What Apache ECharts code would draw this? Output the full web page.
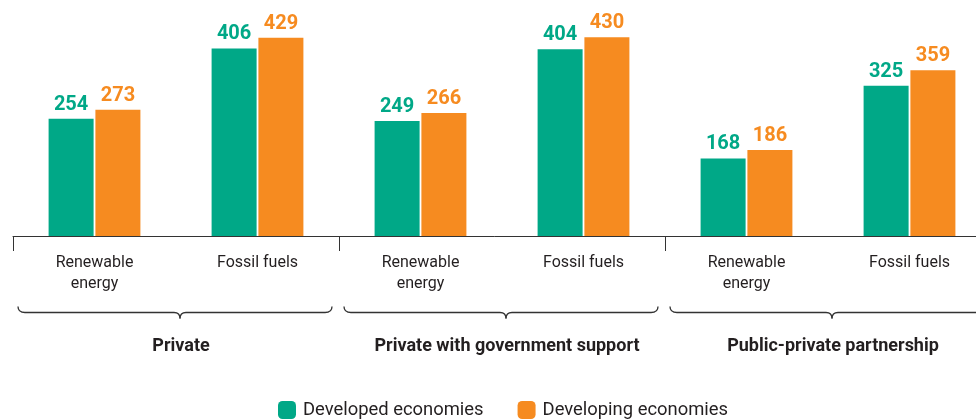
<!DOCTYPE html>
<html>
<head>
<meta charset="utf-8">
<script src="https://cdn.jsdelivr.net/npm/echarts@6/dist/echarts.min.js"></script>
<style>
html,body{margin:0;padding:0;background:#fff;}
#chart{width:976px;height:420px;}
</style>
</head>
<body>
<div id="chart"></div>
<script>
const groups = ['Private', 'Private with government support', 'Public-private partnership'];
const types = ['Renewable\nenergy', 'Fossil fuels'];
const developed = [254, 406, 249, 404, 168, 325];
const developing = [273, 429, 266, 430, 186, 359];
const seriesNames = ['Developed economies', 'Developing economies'];

const FONT = "Roboto, 'Liberation Sans', sans-serif";
const GREEN = '#00a887';
const ORANGE = '#f68b20';
const TEXT = '#231f20';

const categories = [];
groups.forEach(() => types.forEach(t => categories.push(t)));

const chart = echarts.init(document.getElementById('chart'), null, {renderer: 'canvas'});

function barSeries(name, data, color) {
  return {
    name: name,
    type: 'bar',
    data: data,
    barWidth: 45,
    barGap: '4%',
    itemStyle: {color: color},
    label: {
      show: true,
      position: 'top',
      distance: 4,
      color: color,
      fontFamily: FONT,
      fontWeight: 'bold',
      fontSize: 20
    }
  };
}

chart.setOption({
  animation: false,
  textStyle: {fontFamily: FONT},
  grid: {left: 13, top: 5, width: 978, height: 231, outerBoundsMode: 'none', containLabel: false},
  legend: {
    left: 278,
    top: 401,
    padding: 0,
    itemWidth: 18,
    itemHeight: 18,
    itemGap: 34,
    icon: 'roundRect',
    itemStyle: {borderWidth: 0},
    textStyle: {fontFamily: FONT, fontSize: 18.4, color: TEXT, padding: [0, 0, 0, 2]},
    data: seriesNames
  },
  xAxis: [
    {
      type: 'category',
      data: categories,
      axisLine: {show: true, lineStyle: {color: '#333', width: 1}},
      axisTick: {
        show: true,
        length: 15,
        interval: function (i) { return i % 2 === 0; },
        lineStyle: {color: '#333', width: 1}
      },
      axisLabel: {
        interval: 0,
        margin: 16,
        color: TEXT,
        fontFamily: FONT,
        fontSize: 16,
        lineHeight: 21
      }
    },
    {
      type: 'category',
      data: groups,
      position: 'bottom',
      offset: 110,
      axisLine: {show: false},
      axisTick: {show: false},
      axisLabel: {
        interval: 0,
        margin: 0,
        verticalAlign: 'middle',
        padding: [0, 0, 0, 10],
        color: TEXT,
        fontFamily: FONT,
        fontWeight: 'bold',
        fontSize: 18
      }
    }
  ],
  yAxis: {type: 'value', min: 0, max: 500, show: false, splitLine: {show: false}},
  series: [
    barSeries(seriesNames[0], developed, GREEN),
    barSeries(seriesNames[1], developing, ORANGE)
  ]
});

// braces under each group, positioned from the secondary category axis
const c0 = chart.convertToPixel({xAxisIndex: 1}, 0);
const c1 = chart.convertToPixel({xAxisIndex: 1}, 1);
const half = (c1 - c0) / 2;
const yTop = 306.5, yMid = 312.5, yTip = 318.5;
const stroke = {stroke: '#333', lineWidth: 1.3, fill: null};
const children = [];
groups.forEach((g, i) => {
  const center = chart.convertToPixel({xAxisIndex: 1}, i);
  const x0 = center - half + 5;
  const x1 = center + half - 7;
  const tip = (x0 + x1) / 2 + 5;
  children.push(
    {type: 'bezierCurve', shape: {x1: x0, y1: yTop, cpx1: x0, cpy1: yMid, x2: x0 + 7, y2: yMid}, style: stroke},
    {type: 'line', shape: {x1: x0 + 7, y1: yMid, x2: tip - 6, y2: yMid}, style: stroke},
    {type: 'bezierCurve', shape: {x1: tip - 6, y1: yMid, cpx1: tip, cpy1: yMid, x2: tip, y2: yTip}, style: stroke},
    {type: 'bezierCurve', shape: {x1: tip, y1: yTip, cpx1: tip, cpy1: yMid, x2: tip + 6, y2: yMid}, style: stroke},
    {type: 'line', shape: {x1: tip + 6, y1: yMid, x2: x1 - 7, y2: yMid}, style: stroke},
    {type: 'bezierCurve', shape: {x1: x1 - 7, y1: yMid, cpx1: x1, cpy1: yMid, x2: x1, y2: yTop}, style: stroke}
  );
});
chart.setOption({graphic: [{type: 'group', silent: true, children: children}]});
</script>
</body>
</html>
